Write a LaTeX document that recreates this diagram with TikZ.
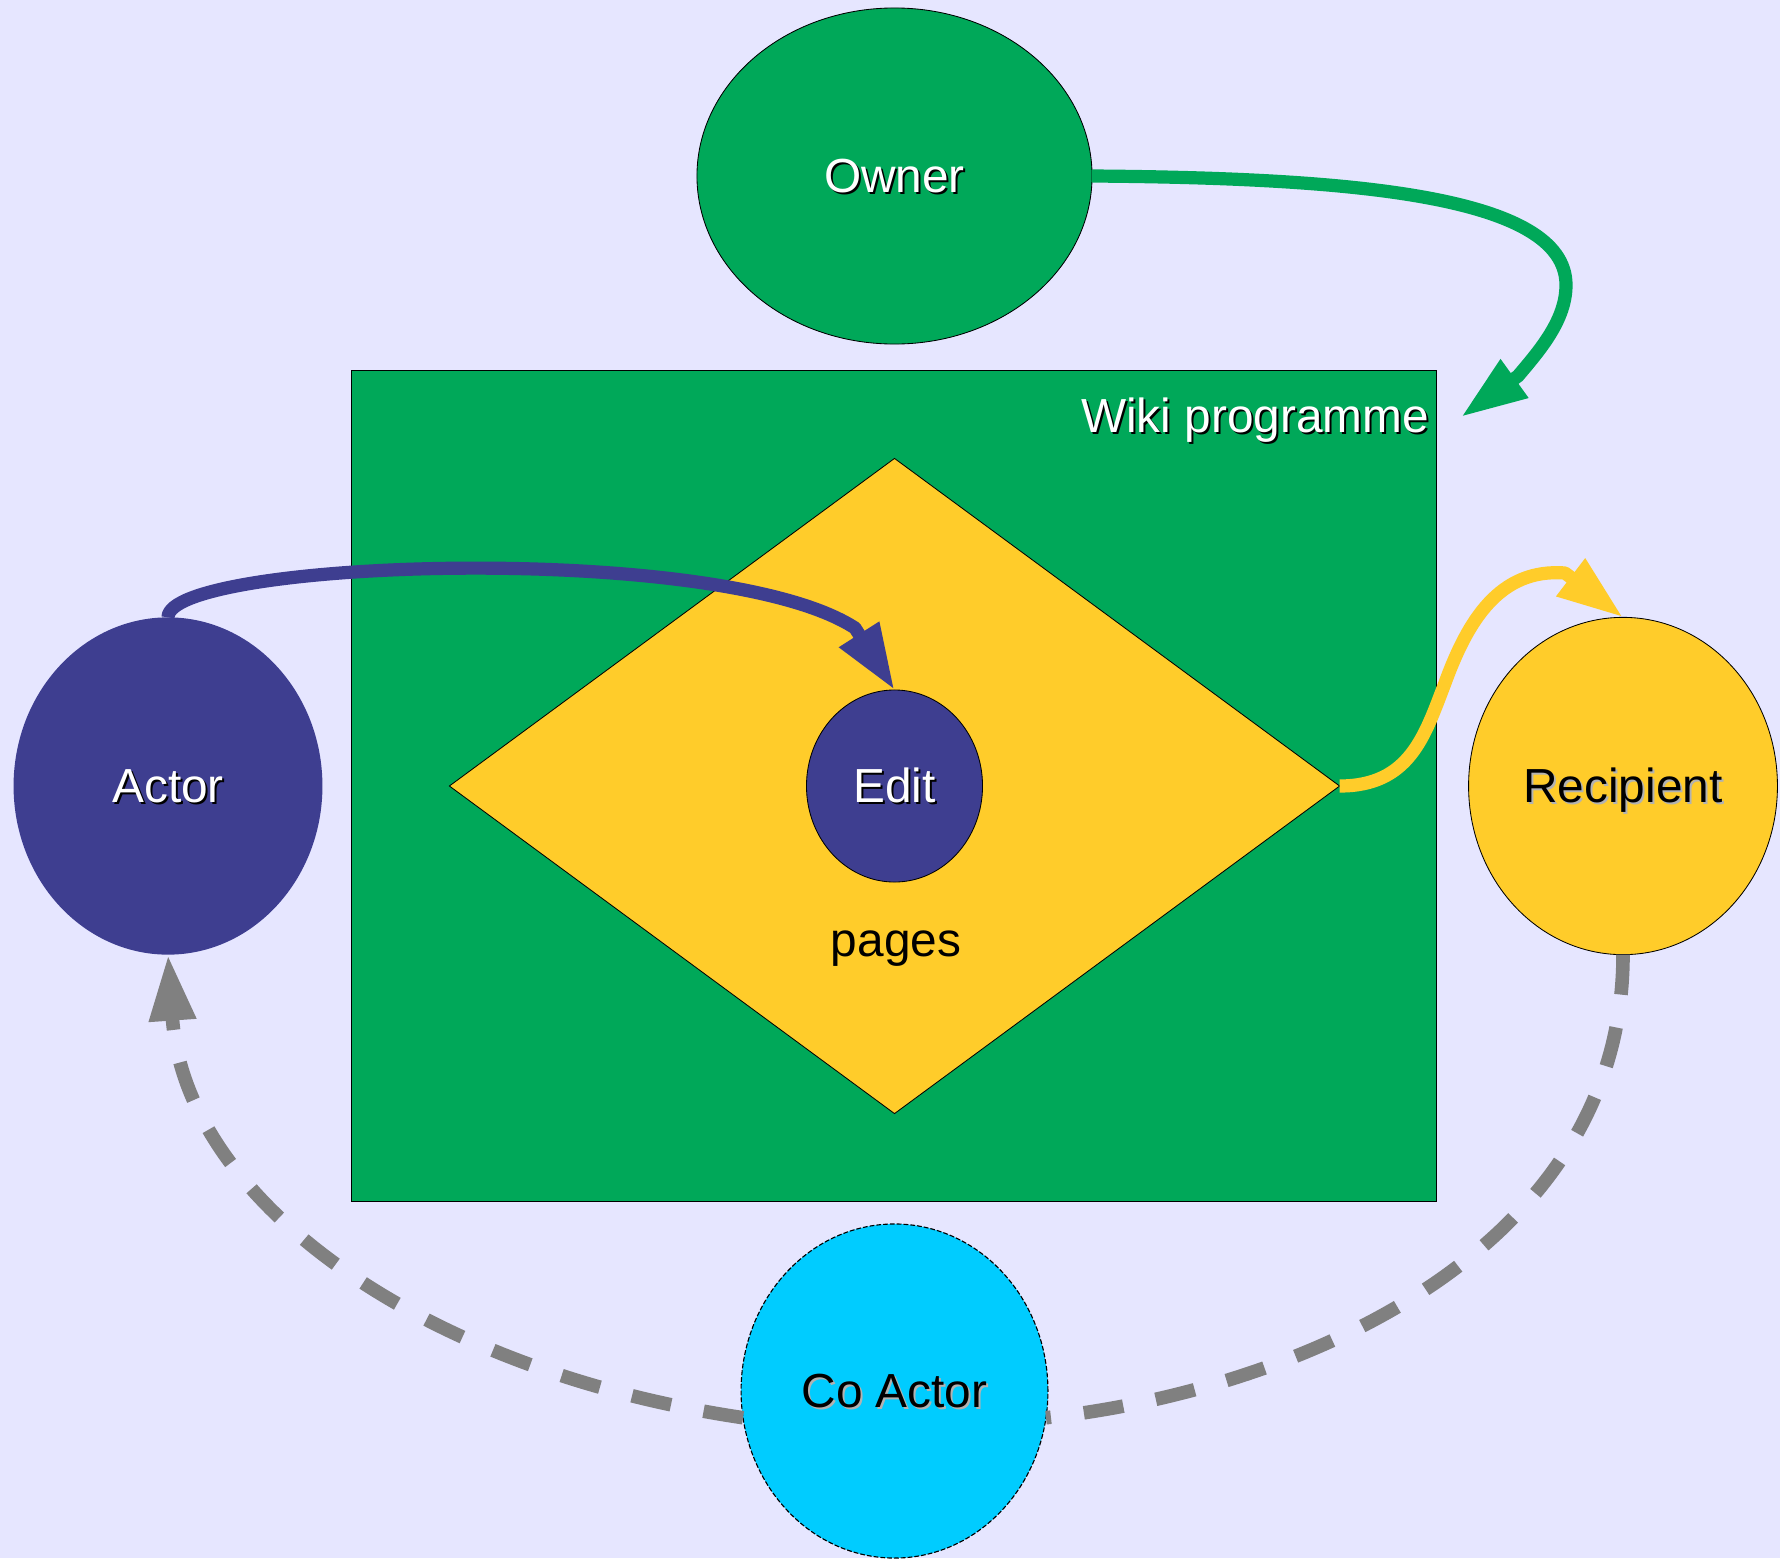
\documentclass[tikz,border=0pt]{standalone}
\usepackage{fontspec}
\setmainfont{Liberation Sans}
\usepackage{tikz}
\usetikzlibrary{shapes,arrows.meta}

\definecolor{bgblue}{RGB}{230,230,255}
\definecolor{wikigreen}{RGB}{0,168,89}
\definecolor{pageyellow}{RGB}{255,204,42}
\definecolor{actorblue}{RGB}{62,62,144}
\definecolor{coblue}{RGB}{0,204,255}

% text with a drop shadow: text colour, shadow colour, text
\newcommand{\shtext}[3]{\rlap{\hspace{0.05cm}\raisebox{-0.05cm}{\color{#2}#3}}{\color{#1}#3}}

\begin{document}
\begin{tikzpicture}[x=0.025cm, y=-0.025cm,
  lbl/.style={font=\fontsize{34}{40}\selectfont, text height=24pt, text depth=0pt},
  blob/.style={ellipse, lbl, inner sep=0pt, outer sep=0pt, draw=black, line width=0.6pt},
  flow/.style={line width=0.33cm, line join=round, -{Triangle[length=1.65cm, width=1.1cm]}},
  dashflow/.style={gray, line width=0.34cm, dash pattern=on 1cm off 0.83cm}]
    \fill[bgblue] (0,0) rectangle (1780,1558);
    \useasboundingbox (0,0) rectangle (1780,1558);
    % the programme and its pages
    \node (wiki) at (894,786) [draw=black, fill=wikigreen, line width=0.6pt, inner sep=0pt, outer sep=0pt,
      minimum width=27.1cm, minimum height=20.75cm] {};
    \node (page) at (894.5,786) [diamond, draw=black, fill=pageyellow, line width=0.6pt, inner sep=0pt, outer sep=0pt,
      minimum width=22.25cm, minimum height=16.375cm] {};
    \node (wikilabel) at (1255,416) [lbl] {\shtext{white}{black}{Wiki programme}};
    \node (edit) at (894.5,786) [blob, fill=actorblue, minimum width=4.4cm, minimum height=4.8cm] {\shtext{white}{black}{Edit}};
    \node (pages) at (896,940) [lbl] {pages};
    % the people round it
    \node (owner) at (894.5,176) [blob, fill=wikigreen, minimum width=9.875cm, minimum height=8.4cm] {\shtext{white}{black}{Owner}};
    \node (actor) at (168,786) [blob, draw=none, fill=actorblue, minimum width=7.72cm, minimum height=8.43cm] {\shtext{white}{black}{Actor}};
    \node (recipient) at (1623,786) [blob, fill=pageyellow, minimum width=7.72cm, minimum height=8.43cm] {\shtext{black}{gray!60}{Recipient}};
    \node (coactor) at (894.5,1391) [blob, fill=coblue, line width=0.8pt, dash pattern=on 0.12cm off 0.05cm,
      minimum width=7.67cm, minimum height=8.35cm] {\shtext{black}{gray!60}{Co Actor}};
    \coordinate (ownertip) at (1461,417);
    % connectors
    \draw[flow, wikigreen] (owner.east) .. controls (1350,178) and (1566,195) .. (1566,285)
      .. controls (1566,320) and (1540,350) .. (1518,376) -- (ownertip);
    \draw[flow, actorblue] (actor.north) .. controls (168,560) and (720,540) .. (855,628) -- (edit.north);
    \draw[flow, pageyellow] (page.east) .. controls (1410,786) and (1425,735) .. (1445,683)
      .. controls (1468,620) and (1500,568) .. (1565,573) -- (recipient.north);
    \draw[dashflow] (recipient.south) .. controls (1623,1250) and (1300,1390) .. (coactor.-10);
    \draw[dashflow, -{Triangle[length=1.65cm, width=1.1cm]}] (coactor.190) .. controls (420,1370) and (185,1200) .. (actor.south);
\end{tikzpicture}
\end{document}
